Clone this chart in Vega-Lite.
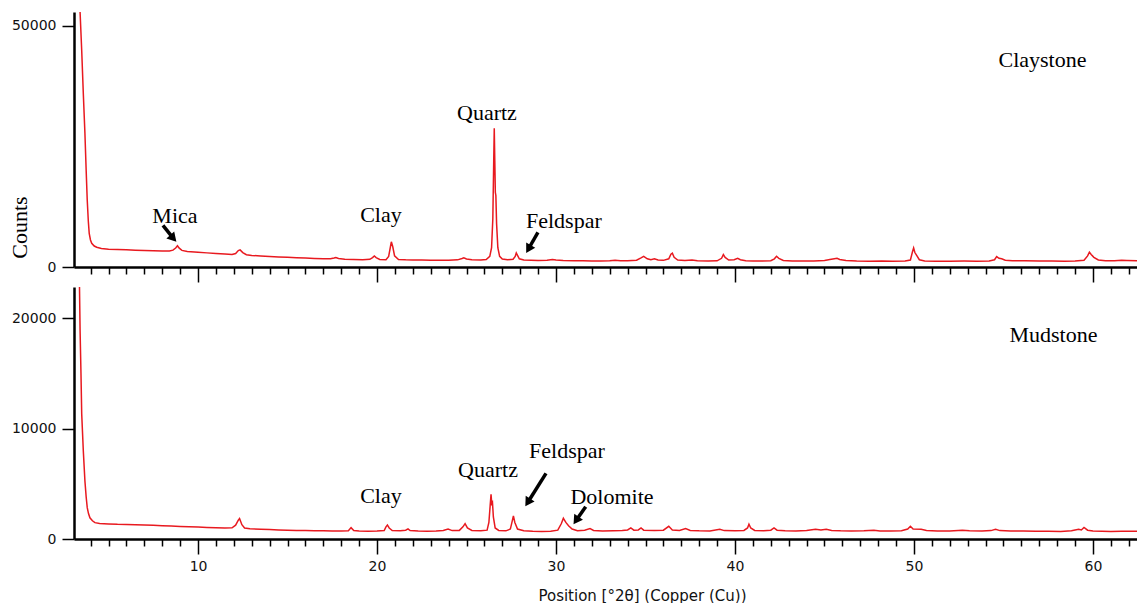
{
  "$schema": "https://vega.github.io/schema/vega-lite/v6.json",
  "background": "white",
  "padding": {"left": 8, "top": 12, "right": 0, "bottom": 0},
  "autosize": {"type": "pad"},
  "spacing": 20,
  "bounds": "flush",
  "config": {
    "view": {"stroke": null},
    "axis": {
      "grid": false,
      "domainColor": "#000000",
      "domainWidth": 2.5,
      "tickColor": "#000000",
      "tickWidth": 1.5,
      "labelFont": "DejaVu Sans",
      "labelFontSize": 14,
      "labelColor": "#111111",
      "titleFont": "DejaVu Sans",
      "titleFontWeight": "normal",
      "titleColor": "#111111"
    },
    "text": {"font": "Liberation Serif", "fontSize": 22, "color": "#000000"}
  },
  "datasets": {
    "claystone": [
      {"pos":3.35,"counts":65000},{"pos":3.41,"counts":52850},{"pos":3.5,"counts":44970},{"pos":3.59,"counts":36000},{"pos":3.68,"counts":27740},{"pos":3.75,"counts":20000},{"pos":3.81,"counts":13840},{"pos":3.87,"counts":9500},{"pos":3.92,"counts":6990},{"pos":3.99,"counts":5600},{"pos":4.06,"counts":4920},{"pos":4.2,"counts":4350},{"pos":4.34,"counts":4090},{"pos":4.6,"counts":3850},{"pos":5.0,"counts":3700},{"pos":5.5,"counts":3620},{"pos":6.0,"counts":3560},{"pos":6.5,"counts":3500},{"pos":7.0,"counts":3430},{"pos":7.5,"counts":3380},{"pos":8.0,"counts":3330},{"pos":8.4,"counts":3320},{"pos":8.6,"counts":3500},{"pos":8.75,"counts":3950},{"pos":8.85,"counts":4420},{"pos":8.95,"counts":3900},{"pos":9.1,"counts":3450},{"pos":9.4,"counts":3200},{"pos":10.0,"counts":3050},{"pos":10.5,"counts":2930},{"pos":11.0,"counts":2800},{"pos":11.5,"counts":2680},{"pos":11.9,"counts":2600},{"pos":12.1,"counts":2800},{"pos":12.25,"counts":3400},{"pos":12.35,"counts":3550},{"pos":12.5,"counts":3000},{"pos":12.7,"counts":2550},{"pos":13.0,"counts":2400},{"pos":13.5,"counts":2300},{"pos":14.0,"counts":2200},{"pos":14.5,"counts":2100},{"pos":15.0,"counts":2000},{"pos":15.5,"counts":1920},{"pos":16.0,"counts":1850},{"pos":16.5,"counts":1780},{"pos":17.0,"counts":1720},{"pos":17.4,"counts":1700},{"pos":17.6,"counts":1850},{"pos":17.7,"counts":1950},{"pos":17.85,"counts":1750},{"pos":18.2,"counts":1620},{"pos":18.7,"counts":1560},{"pos":19.2,"counts":1520},{"pos":19.6,"counts":1600},{"pos":19.75,"counts":1950},{"pos":19.85,"counts":2300},{"pos":19.95,"counts":1950},{"pos":20.15,"counts":1580},{"pos":20.5,"counts":1520},{"pos":20.65,"counts":2200},{"pos":20.75,"counts":4200},{"pos":20.8,"counts":5230},{"pos":20.88,"counts":4200},{"pos":20.98,"counts":2300},{"pos":21.2,"counts":1550},{"pos":21.6,"counts":1480},{"pos":22.0,"counts":1450},{"pos":22.5,"counts":1430},{"pos":23.0,"counts":1420},{"pos":23.5,"counts":1400},{"pos":24.0,"counts":1420},{"pos":24.5,"counts":1480},{"pos":24.75,"counts":1750},{"pos":24.85,"counts":1900},{"pos":25.0,"counts":1650},{"pos":25.3,"counts":1480},{"pos":25.8,"counts":1450},{"pos":26.1,"counts":1550},{"pos":26.3,"counts":2200},{"pos":26.4,"counts":4000},{"pos":26.47,"counts":10000},{"pos":26.52,"counts":22000},{"pos":26.55,"counts":28800},{"pos":26.58,"counts":22000},{"pos":26.61,"counts":15500},{"pos":26.64,"counts":14800},{"pos":26.68,"counts":9000},{"pos":26.75,"counts":4000},{"pos":26.85,"counts":2200},{"pos":27.0,"counts":1650},{"pos":27.3,"counts":1500},{"pos":27.6,"counts":1600},{"pos":27.72,"counts":2200},{"pos":27.78,"counts":2900},{"pos":27.85,"counts":2400},{"pos":27.95,"counts":1700},{"pos":28.2,"counts":1450},{"pos":28.6,"counts":1400},{"pos":29.0,"counts":1350},{"pos":29.5,"counts":1380},{"pos":29.8,"counts":1550},{"pos":30.0,"counts":1450},{"pos":30.4,"counts":1350},{"pos":31.0,"counts":1300},{"pos":31.5,"counts":1280},{"pos":32.0,"counts":1250},{"pos":32.5,"counts":1260},{"pos":33.0,"counts":1300},{"pos":33.3,"counts":1400},{"pos":33.6,"counts":1280},{"pos":34.0,"counts":1280},{"pos":34.5,"counts":1400},{"pos":34.75,"counts":1900},{"pos":34.9,"counts":2220},{"pos":35.1,"counts":1700},{"pos":35.3,"counts":1500},{"pos":35.5,"counts":1700},{"pos":35.7,"counts":1450},{"pos":36.0,"counts":1380},{"pos":36.3,"counts":1700},{"pos":36.42,"counts":2650},{"pos":36.5,"counts":2870},{"pos":36.6,"counts":2000},{"pos":36.8,"counts":1450},{"pos":37.2,"counts":1350},{"pos":37.6,"counts":1450},{"pos":37.9,"counts":1300},{"pos":38.5,"counts":1250},{"pos":39.0,"counts":1280},{"pos":39.25,"counts":1800},{"pos":39.35,"counts":2580},{"pos":39.45,"counts":2000},{"pos":39.65,"counts":1450},{"pos":39.95,"counts":1500},{"pos":40.15,"counts":1800},{"pos":40.3,"counts":1500},{"pos":40.6,"counts":1300},{"pos":41.0,"counts":1250},{"pos":41.5,"counts":1230},{"pos":42.0,"counts":1300},{"pos":42.2,"counts":1700},{"pos":42.32,"counts":2220},{"pos":42.45,"counts":1800},{"pos":42.7,"counts":1350},{"pos":43.2,"counts":1250},{"pos":43.8,"counts":1230},{"pos":44.4,"counts":1250},{"pos":45.0,"counts":1350},{"pos":45.3,"counts":1550},{"pos":45.55,"counts":1700},{"pos":45.7,"counts":1800},{"pos":45.85,"counts":1550},{"pos":46.2,"counts":1350},{"pos":46.8,"counts":1250},{"pos":47.5,"counts":1200},{"pos":48.2,"counts":1250},{"pos":48.8,"counts":1200},{"pos":49.5,"counts":1250},{"pos":49.8,"counts":1450},{"pos":49.92,"counts":3200},{"pos":49.98,"counts":3940},{"pos":50.05,"counts":3000},{"pos":50.15,"counts":2400},{"pos":50.3,"counts":1500},{"pos":50.6,"counts":1250},{"pos":51.2,"counts":1200},{"pos":52.0,"counts":1180},{"pos":52.8,"counts":1220},{"pos":53.5,"counts":1200},{"pos":54.2,"counts":1250},{"pos":54.5,"counts":1500},{"pos":54.62,"counts":2150},{"pos":54.75,"counts":1800},{"pos":54.9,"counts":1700},{"pos":55.1,"counts":1400},{"pos":55.5,"counts":1300},{"pos":56.2,"counts":1280},{"pos":57.0,"counts":1250},{"pos":57.7,"counts":1230},{"pos":58.4,"counts":1200},{"pos":59.0,"counts":1230},{"pos":59.5,"counts":1400},{"pos":59.7,"counts":2300},{"pos":59.8,"counts":3080},{"pos":59.9,"counts":2600},{"pos":60.05,"counts":2000},{"pos":60.3,"counts":1450},{"pos":60.7,"counts":1300},{"pos":61.2,"counts":1280},{"pos":61.6,"counts":1400},{"pos":61.9,"counts":1350},{"pos":62.46,"counts":1300}
    ],
    "mudstone": [
      {"pos":3.35,"counts":26000},{"pos":3.41,"counts":18890},{"pos":3.46,"counts":15000},{"pos":3.5,"counts":11360},{"pos":3.59,"counts":8000},{"pos":3.68,"counts":5250},{"pos":3.75,"counts":3800},{"pos":3.81,"counts":2840},{"pos":3.88,"counts":2300},{"pos":3.96,"counts":1920},{"pos":4.1,"counts":1650},{"pos":4.24,"counts":1480},{"pos":4.5,"counts":1400},{"pos":5.0,"counts":1360},{"pos":5.5,"counts":1330},{"pos":6.0,"counts":1320},{"pos":6.5,"counts":1300},{"pos":7.0,"counts":1270},{"pos":7.5,"counts":1240},{"pos":8.0,"counts":1200},{"pos":8.5,"counts":1170},{"pos":9.0,"counts":1140},{"pos":9.5,"counts":1110},{"pos":10.0,"counts":1080},{"pos":10.5,"counts":1050},{"pos":11.0,"counts":1020},{"pos":11.5,"counts":1000},{"pos":11.9,"counts":1020},{"pos":12.1,"counts":1250},{"pos":12.25,"counts":1700},{"pos":12.32,"counts":1850},{"pos":12.45,"counts":1300},{"pos":12.6,"counts":1000},{"pos":12.9,"counts":920},{"pos":13.5,"counts":880},{"pos":14.0,"counts":850},{"pos":14.5,"counts":820},{"pos":15.0,"counts":800},{"pos":15.5,"counts":780},{"pos":16.0,"counts":770},{"pos":16.5,"counts":750},{"pos":17.0,"counts":740},{"pos":17.5,"counts":730},{"pos":18.0,"counts":720},{"pos":18.4,"counts":740},{"pos":18.55,"counts":1030},{"pos":18.7,"counts":760},{"pos":19.0,"counts":720},{"pos":19.5,"counts":710},{"pos":20.0,"counts":720},{"pos":20.4,"counts":760},{"pos":20.5,"counts":1100},{"pos":20.58,"counts":1270},{"pos":20.68,"counts":1000},{"pos":20.85,"counts":760},{"pos":21.3,"counts":740},{"pos":21.6,"counts":800},{"pos":21.73,"counts":910},{"pos":21.85,"counts":760},{"pos":22.3,"counts":720},{"pos":22.8,"counts":700},{"pos":23.3,"counts":720},{"pos":23.7,"counts":780},{"pos":23.97,"counts":900},{"pos":24.2,"counts":760},{"pos":24.6,"counts":780},{"pos":24.8,"counts":1100},{"pos":24.92,"counts":1390},{"pos":25.05,"counts":1000},{"pos":25.3,"counts":780},{"pos":25.8,"counts":740},{"pos":26.15,"counts":800},{"pos":26.25,"counts":1500},{"pos":26.32,"counts":3000},{"pos":26.37,"counts":4060},{"pos":26.41,"counts":3200},{"pos":26.45,"counts":3320},{"pos":26.5,"counts":2000},{"pos":26.6,"counts":1000},{"pos":26.8,"counts":780},{"pos":27.2,"counts":740},{"pos":27.45,"counts":900},{"pos":27.55,"counts":1600},{"pos":27.62,"counts":2090},{"pos":27.7,"counts":1500},{"pos":27.85,"counts":900},{"pos":28.2,"counts":740},{"pos":28.7,"counts":700},{"pos":29.2,"counts":680},{"pos":29.7,"counts":700},{"pos":30.1,"counts":800},{"pos":30.3,"counts":1400},{"pos":30.41,"counts":1880},{"pos":30.55,"counts":1500},{"pos":30.7,"counts":1200},{"pos":30.9,"counts":900},{"pos":31.2,"counts":750},{"pos":31.6,"counts":800},{"pos":31.9,"counts":940},{"pos":32.1,"counts":780},{"pos":32.6,"counts":720},{"pos":33.2,"counts":740},{"pos":33.7,"counts":760},{"pos":34.0,"counts":820},{"pos":34.18,"counts":1000},{"pos":34.35,"counts":800},{"pos":34.6,"counts":820},{"pos":34.75,"counts":1000},{"pos":34.9,"counts":800},{"pos":35.5,"counts":760},{"pos":36.0,"counts":800},{"pos":36.3,"counts":1150},{"pos":36.5,"counts":820},{"pos":36.9,"counts":780},{"pos":37.24,"counts":940},{"pos":37.5,"counts":780},{"pos":38.0,"counts":740},{"pos":38.6,"counts":730},{"pos":39.15,"counts":880},{"pos":39.4,"counts":760},{"pos":40.0,"counts":740},{"pos":40.5,"counts":780},{"pos":40.7,"counts":1000},{"pos":40.78,"counts":1340},{"pos":40.88,"counts":1000},{"pos":41.1,"counts":780},{"pos":41.6,"counts":740},{"pos":42.0,"counts":800},{"pos":42.18,"counts":1000},{"pos":42.35,"counts":800},{"pos":42.8,"counts":740},{"pos":43.4,"counts":730},{"pos":44.0,"counts":760},{"pos":44.5,"counts":880},{"pos":44.8,"counts":820},{"pos":45.1,"counts":880},{"pos":45.4,"counts":780},{"pos":45.9,"counts":740},{"pos":46.5,"counts":730},{"pos":47.2,"counts":740},{"pos":47.76,"counts":800},{"pos":48.1,"counts":730},{"pos":48.7,"counts":720},{"pos":49.3,"counts":750},{"pos":49.65,"counts":900},{"pos":49.8,"counts":1150},{"pos":49.95,"counts":900},{"pos":50.4,"counts":880},{"pos":50.7,"counts":780},{"pos":51.3,"counts":730},{"pos":52.0,"counts":720},{"pos":52.7,"counts":800},{"pos":53.1,"counts":740},{"pos":53.8,"counts":720},{"pos":54.3,"counts":760},{"pos":54.56,"counts":880},{"pos":54.8,"counts":760},{"pos":55.4,"counts":730},{"pos":56.1,"counts":720},{"pos":56.8,"counts":700},{"pos":57.5,"counts":700},{"pos":58.2,"counts":690},{"pos":58.8,"counts":740},{"pos":59.2,"counts":880},{"pos":59.35,"counts":820},{"pos":59.5,"counts":1050},{"pos":59.7,"counts":800},{"pos":60.0,"counts":720},{"pos":60.5,"counts":700},{"pos":61.0,"counts":690},{"pos":61.6,"counts":700},{"pos":62.1,"counts":710},{"pos":62.46,"counts":700}
    ],
    "notes_top": [
      {"label":"Claystone","pos":57.18,"counts":41500},
      {"label":"Quartz","pos":26.14,"counts":30440},
      {"label":"Mica","pos":8.71,"counts":9210},
      {"label":"Clay","pos":20.22,"counts":9340},
      {"label":"Feldspar","pos":30.44,"counts":8170}
    ],
    "notes_bottom": [
      {"label":"Mudstone","pos":57.79,"counts":17820},
      {"label":"Quartz","pos":26.2,"counts":5585},
      {"label":"Clay","pos":20.22,"counts":3230},
      {"label":"Feldspar","pos":30.61,"counts":7340},
      {"label":"Dolomite","pos":33.13,"counts":3170}
    ],
    "arrows_top": [
      {"id":"Mica","pos":8.04,"counts":8650,"pos2":8.62,"counts2":5955},
      {"id":"Feldspar","pos":28.99,"counts":7200,"pos2":28.46,"counts2":3735}
    ],
    "arrows_bottom": [
      {"id":"Feldspar","pos":29.44,"counts":5950,"pos2":28.42,"counts2":3310},
      {"id":"Dolomite","pos":31.66,"counts":2930,"pos2":31.12,"counts2":1670}
    ]
  },
  "vconcat": [
    {
      "width": 1063,
      "height": 255,
      "layer": [
        {
          "data": {"name": "claystone"},
          "mark": {"type": "line", "color": "#e8191f", "strokeWidth": 1.5, "clip": true},
          "encoding": {
            "x": {"field": "pos", "type": "quantitative",
              "scale": {"domain": [3.07, 62.46], "nice": false, "zero": false},
              "axis": {"values": [4,5,6,7,8,9,10,11,12,13,14,15,16,17,18,19,20,21,22,23,24,25,26,27,28,29,30,31,32,33,34,35,36,37,38,39,40,41,42,43,44,45,46,47,48,49,50,51,52,53,54,55,56,57,58,59,60,61,62],
                "tickCount": 200, "format": "d",
                "labels": false, "title": null,
                "tickSize": {"condition": {"test": "datum.value % 10 === 0", "value": 15}, "value": 7}}},
            "y": {"field": "counts", "type": "quantitative",
              "scale": {"domain": [0, 52900], "nice": false},
              "axis": {"values": [0, 50000], "format": "d", "tickSize": 12, "labelPadding": 6,
                "title": "Counts", "titleFont": "Liberation Serif", "titleFontSize": 22, "titleColor": "#000000",
                "titleX": -55, "titleY": 215, "titleBaseline": "middle", "titleAngle": 270}}
          }
        },
        {
          "data": {"name": "notes_top"},
          "mark": {"type": "text", "align": "center", "baseline": "alphabetic"},
          "encoding": {
            "x": {"field": "pos", "type": "quantitative"},
            "y": {"field": "counts", "type": "quantitative"},
            "text": {"field": "label"}
          }
        },
        {
          "data": {"name": "arrows_top"},
          "mark": {"type": "rule", "color": "#000000", "strokeWidth": 3.5},
          "encoding": {
            "x": {"field": "pos", "type": "quantitative"},
            "y": {"field": "counts", "type": "quantitative"},
            "x2": {"field": "pos2"},
            "y2": {"field": "counts2"}
          }
        },
        {
          "data": {"name": "arrows_top"},
          "transform": [{"filter": "datum.id === 'Mica'"}],
          "mark": {"type": "point", "shape": "triangle-up", "filled": true, "color": "#000000", "opacity": 1, "size": 110, "angle": 138},
          "encoding": {
            "x": {"field": "pos2", "type": "quantitative"},
            "y": {"field": "counts2", "type": "quantitative"}
          }
        },
        {
          "data": {"name": "arrows_top"},
          "transform": [{"filter": "datum.id === 'Feldspar'"}],
          "mark": {"type": "point", "shape": "triangle-up", "filled": true, "color": "#000000", "opacity": 1, "size": 110, "angle": 210},
          "encoding": {
            "x": {"field": "pos2", "type": "quantitative"},
            "y": {"field": "counts2", "type": "quantitative"}
          }
        }
      ]
    },
    {
      "width": 1063,
      "height": 252,
      "layer": [
        {
          "data": {"name": "mudstone"},
          "mark": {"type": "line", "color": "#e8191f", "strokeWidth": 1.5, "clip": true},
          "encoding": {
            "x": {"field": "pos", "type": "quantitative",
              "scale": {"domain": [3.07, 62.46], "nice": false, "zero": false},
              "axis": {"values": [4,5,6,7,8,9,10,11,12,13,14,15,16,17,18,19,20,21,22,23,24,25,26,27,28,29,30,31,32,33,34,35,36,37,38,39,40,41,42,43,44,45,46,47,48,49,50,51,52,53,54,55,56,57,58,59,60,61,62],
                "tickCount": 200, "format": "d",
                "labelExpr": "datum.value % 10 === 0 ? datum.label : ''",
                "labelOverlap": false, "labelFlush": false, "labelPadding": 5,
                "tickSize": {"condition": {"test": "datum.value % 10 === 0", "value": 15}, "value": 7},
                "title": "Position [°2θ] (Copper (Cu))", "titleFontSize": 15,
                "titleX": 568, "titleY": 56, "titleBaseline": "middle", "titleAlign": "center"}},
            "y": {"field": "counts", "type": "quantitative",
              "scale": {"domain": [0, 22830], "nice": false},
              "axis": {"values": [0, 10000, 20000], "format": "d", "tickSize": 12, "labelPadding": 6, "title": null}}
          }
        },
        {
          "data": {"name": "notes_bottom"},
          "mark": {"type": "text", "align": "center", "baseline": "alphabetic"},
          "encoding": {
            "x": {"field": "pos", "type": "quantitative"},
            "y": {"field": "counts", "type": "quantitative"},
            "text": {"field": "label"}
          }
        },
        {
          "data": {"name": "arrows_bottom"},
          "mark": {"type": "rule", "color": "#000000", "strokeWidth": 3.5},
          "encoding": {
            "x": {"field": "pos", "type": "quantitative"},
            "y": {"field": "counts", "type": "quantitative"},
            "x2": {"field": "pos2"},
            "y2": {"field": "counts2"}
          }
        },
        {
          "data": {"name": "arrows_bottom"},
          "transform": [{"filter": "datum.id === 'Feldspar'"}],
          "mark": {"type": "point", "shape": "triangle-up", "filled": true, "color": "#000000", "opacity": 1, "size": 110, "angle": 212},
          "encoding": {
            "x": {"field": "pos2", "type": "quantitative"},
            "y": {"field": "counts2", "type": "quantitative"}
          }
        },
        {
          "data": {"name": "arrows_bottom"},
          "transform": [{"filter": "datum.id === 'Dolomite'"}],
          "mark": {"type": "point", "shape": "triangle-up", "filled": true, "color": "#000000", "opacity": 1, "size": 110, "angle": 214},
          "encoding": {
            "x": {"field": "pos2", "type": "quantitative"},
            "y": {"field": "counts2", "type": "quantitative"}
          }
        }
      ]
    }
  ]
}
